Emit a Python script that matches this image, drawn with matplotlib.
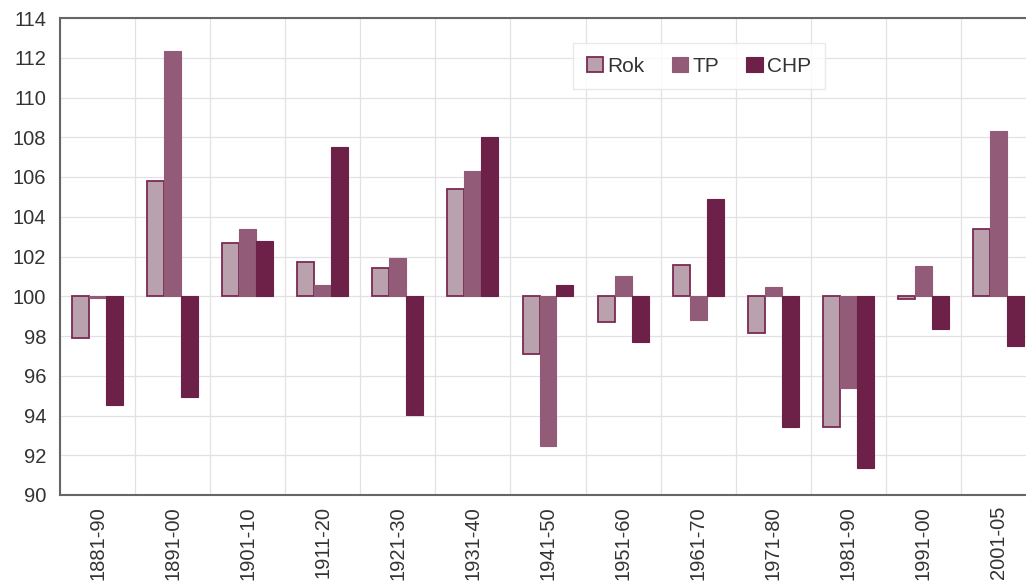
import matplotlib
matplotlib.use("Agg")
import matplotlib.pyplot as plt
import numpy as np

categories = ["1881-90", "1891-00", "1901-10", "1911-20", "1921-30", "1931-40",
              "1941-50", "1951-60", "1961-70", "1971-80", "1981-90", "1991-00", "2001-05"]
rok = [97.9, 105.8, 102.66, 101.72, 101.42, 105.41, 97.07, 98.71, 101.56, 98.15, 93.43, 99.85, 103.38]
tp = [99.9, 112.36, 103.36, 100.58, 101.92, 106.31, 92.48, 101.0, 98.8, 100.47, 95.39, 101.54, 108.32]
chp = [94.55, 94.92, 102.78, 107.52, 94.05, 107.99, 100.55, 97.69, 104.89, 93.43, 91.34, 98.36, 97.48]
series_names = ["Rok", "TP", "CHP"]
yticks = list(range(90, 115, 2))

plt.rcParams['font.family'] = ['Liberation Sans', 'DejaVu Sans']

fig = plt.figure(figsize=(10.26, 5.85), dpi=100)
ax = fig.add_axes([60/1026, 90/585, 976/1026, 477/585])

base = 100.0
x = np.arange(len(categories))
w = 0.226
styles = [
    dict(color="#b9a1ae", edgecolor="#7b2a52", linewidth=1.3),
    dict(color="#925b77", edgecolor="#925b77", linewidth=0.8),
    dict(color="#6d2048", edgecolor="#6d2048", linewidth=0.8),
]
for i, (vals, name) in enumerate(zip([rok, tp, chp], series_names)):
    v = np.array(vals)
    ax.bar(x + (i - 1) * w, v - base, bottom=base, width=w, label=name, zorder=3, **styles[i])

ax.set_xlim(-0.5, len(categories) - 0.5)
ax.set_ylim(90, 114)
ax.set_yticks(yticks)
ax.set_xticks(x)
ax.set_xticklabels(categories, rotation=90, va="top", ha="center")
ax.set_xticks(np.arange(len(categories) + 1) - 0.5, minor=True)
ax.tick_params(axis="x", which="both", length=0, labelsize=14.5, colors="#333333", pad=8)
ax.tick_params(axis="y", length=0, labelsize=14.5, colors="#333333", pad=10)
ax.grid(True, axis="y", color="#e2e2e6", linewidth=0.9, zorder=0)
ax.grid(True, axis="x", which="minor", color="#e2e2e6", linewidth=0.9, zorder=0)
ax.grid(False, axis="x", which="major")

for s in ["left", "bottom", "top"]:
    ax.spines[s].set_color("#666666")
    ax.spines[s].set_linewidth(1.5)
ax.spines["right"].set_visible(False)

leg = ax.legend(loc="upper left", bbox_to_anchor=(0.5256, 0.9476), borderaxespad=0,
                ncol=3, frameon=True, fancybox=False, fontsize=15,
                handlelength=0.8, handleheight=0.8, handletextpad=0.2,
                columnspacing=1.3, borderpad=0.65)
leg.get_frame().set_edgecolor("#e4e4e4")
leg.get_frame().set_linewidth(1.0)
for t in leg.get_texts():
    t.set_color("#333333")

fig.savefig("out.png", dpi=100)
